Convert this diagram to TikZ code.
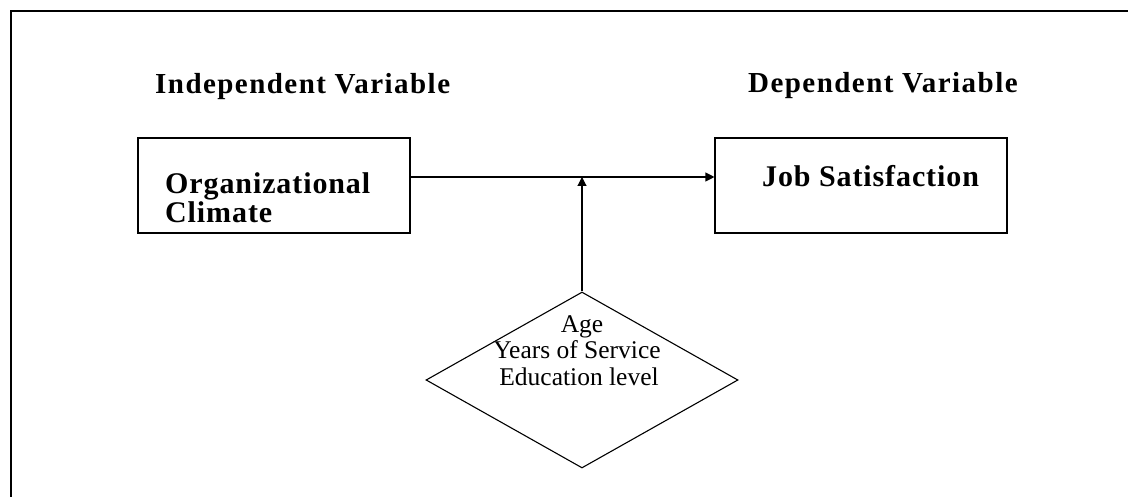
\documentclass[tikz,border=0pt]{standalone}
\usepackage{fontspec}
\setmainfont{Liberation Serif}
\usetikzlibrary{arrows.meta,shapes.geometric}

\tikzset{
  varbox/.style={draw, line width=1.1pt, rectangle, minimum height=95pt, inner sep=0pt},
  heading/.style={anchor=base west, inner sep=0pt,
    font=\fontsize{29}{32}\selectfont\bfseries\addfontfeature{LetterSpace=5}},
  boxtext/.style={anchor=base west, inner sep=0pt,
    font=\fontsize{30}{34}\selectfont\bfseries\addfontfeature{LetterSpace=3}},
  modtext/.style={anchor=base, inner sep=0pt, font=\fontsize{25.5}{28}\selectfont},
  link/.style={line width=1.1pt, -{Triangle[length=9pt,width=9pt]}},
  moderator/.style={draw, line width=1.1pt, diamond, aspect=1.77, minimum width=312pt, minimum height=176pt, inner sep=0pt},
}

\begin{document}
\begin{tikzpicture}[x=1pt,y=-1pt]
  \useasboundingbox (0,0) rectangle (1128,497);

  % open frame: top and left sides only
  \draw[line width=1.8pt] (1128,11) -- (11,11) -- (11,497);

  % column headings
  \node[heading] (hind) at (155,94) {Independent Variable};
  \node[heading] (hdep) at (748,93) {Dependent Variable};

  % variable boxes
  \node[varbox, minimum width=272pt] (ind) at (274,185.5) {};
  \node[varbox, minimum width=292pt] (dep) at (861,185.5) {};
  \node[boxtext] (indA) at (165,194) {Organizational};
  \node[boxtext] (indB) at (165,223) {Climate};
  \node[boxtext] (depA) at (762,187) {Job Satisfaction};

  % moderating variables
  \node[moderator] (mod) at (582,380) {};
  \node[modtext] (m1) at (582,332) {Age};
  \node[modtext] (m2) at (577,358) {Years of Service};
  \node[modtext] (m3) at (579,385) {Education level};

  % connectors
  \coordinate (joint) at (582,177);
  \draw[link] (ind.east |- joint) -- (dep.west |- joint);
  \draw[link] (mod.north) -- (joint);
\end{tikzpicture}
\end{document}
